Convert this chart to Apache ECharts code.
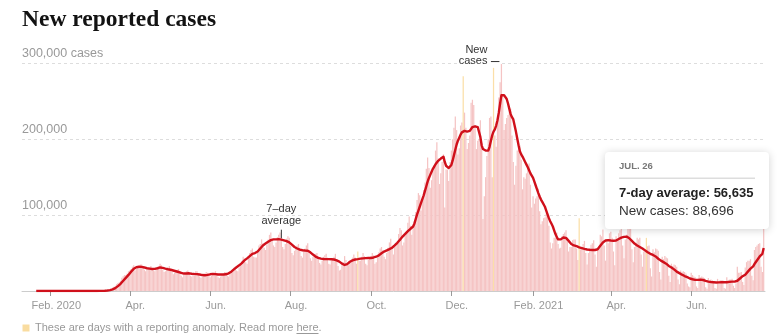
<!DOCTYPE html>
<html><head><meta charset="utf-8">
<script src="https://cdn.jsdelivr.net/npm/echarts@6/dist/echarts.min.js"></script>
<style>html,body{margin:0;padding:0;background:#fff}#c{width:780px;height:336px}</style>
</head><body><div id="c"></div>
<script>
// ---------- DATA (values in thousands of cases) ----------
const startDate = '2020-01-21';
const tickDates = ['2020-02-01','2020-04-01','2020-06-01','2020-08-01','2020-10-01','2020-12-01','2021-02-01','2021-04-01','2021-06-01'];
const tickLabels = ['Feb. 2020','Apr.','Jun.','Aug.','Oct.','Dec.','Feb. 2021','Apr.','Jun.'];
const yTicks = [100, 200, 300];
const anomalyDates = ['2020-09-21','2020-12-10','2021-01-02','2021-03-08','2021-04-28'];
const tooltipMonths = ['JAN.','FEB.','MAR.','APR.','MAY','JUN.','JUL.','AUG.','SEP.','OCT.','NOV.','DEC.'];
const avgAnnotationDate = '2020-07-25';

// daily new reported cases (thousands), by month
const casesJan20 = [0,0,0,0,0,0,0,0,0,0,0];
const casesFeb20 = [0,0,0,0,0,0,0,0,0,0,0,0,0,0,0,0,0,0,0,0,0,0,0,0,0,0,0,0,0];
const casesMar20 = [0.01,0.02,0.02,0.03,0.07,0.07,0.1,0.12,0.2,0.29,0.43,0.5,0.67,0.7,0.92,1.2,1.8,2.6,4.5,5.6,6.8,9,10.5,11.5,13.5,17.5,19.5,21,21,23,26];
const casesApr20 = [27,29,32,34,27,29,31,33,35,35,31,28,26,28,30,31,33,30,27,26,28,30,32,36,34,28,25,26,28,31];
const casesMay20 = [33,29,25,22,24,26,28,29,26,20,18,21,24,26,27,25,20,19,21,23,26,26,23,19,17,19,21,23,25,24,20];
const casesJun20 = [18,20,22,24,26,23,18,17,19,22,23,25,25,20,19,23,26,28,31,32,27,26,31,36,39,45,43,38,36,43];
const casesJul20 = [50,54,56,45,44,44,50,60,62,68,63,57,54,61,68,74,77,66,60,58,64,71,74,77,70,58,55,62,69,72,70];
const casesAug20 = [60,50,47,53,58,60,62,57,46,44,52,56,60,63,54,43,40,45,48,49,50,45,37,35,40,45,47,49,44,36,35];
const casesSep20 = [40,43,45,49,42,33,27,28,34,38,46,41,34,34,38,39,44,48,44,36,52,40,40,45,50,46,36,34,41,44];
const casesOct20 = [46,50,47,36,38,44,51,56,58,54,45,42,50,57,64,69,57,48,58,60,63,75,83,80,60,64,73,79,90,98,86];
const casesNov20 = [74,84,92,104,120,129,126,106,121,133,143,161,176,162,136,146,158,166,185,196,175,141,155,170,180,110,160,160,145,170];
const casesDec20 = [185,200,215,230,212,180,188,218,222,283,235,215,187,195,205,248,252,245,215,187,198,200,225,195,95,125,150,178,200,228,230];
const casesJan21 = [150,294,205,190,230,255,275,299,258,212,220,228,232,238,240,205,170,140,165,185,192,192,173,134,150,148,155,162,168,140,110];
const casesFeb21 = [125,115,122,125,135,105,88,92,96,97,102,100,86,64,56,63,70,70,77,62,56,57,72,75,77,80,65,52];
const casesMar21 = [58,58,67,68,68,56,41,96,55,58,62,66,50,35,50,54,61,63,67,48,32,55,58,74,72,81,60,40,66,63,76];
const casesApr21 = [78,70,52,34,72,66,76,80,88,60,43,68,74,82,82,84,55,38,58,63,70,68,70,48,32,52,55,70,59,60];
const casesMay21 = [30,19,55,51,56,55,53,25,15,45,42,46,44,43,20,12,36,33,35,34,32,15,9,27,25,26,25,23,10,6,5];
const casesJun21 = [24,21,19,18,6,4,21,18,19,18,17,5,3,17,14,15,14,13,4,3,16,13,14,14,14,4,3,18,14,15];
const casesJul21 = [15,16,7,4,10,32,24,24,25,12,8,31,38,40,40,42,20,14,54,58,60,62,63,32,25,88.696];

// 7-day average (thousands), by month
const avgJan20 = [0,0,0,0,0,0,0,0,0,0,0];
const avgFeb20 = [0,0,0,0,0,0,0,0,0,0,0,0,0,0,0,0,0,0,0,0,0,0,0,0,0,0,0,0,0];
const avgMar20 = [0.01,0.02,0.02,0.03,0.04,0.05,0.07,0.08,0.1,0.14,0.2,0.26,0.35,0.45,0.6,0.8,1.1,1.5,2.1,2.9,3.8,5,6.4,7.8,9.5,11.5,13.5,15.5,17.3,19.2,21.2];
const avgApr20 = [23.5,25.5,27.5,29.2,30.5,31.3,31.8,32,32,31.8,31.4,31,30.5,30,29.8,29.5,29.3,29,29,29.2,29.5,30,30.5,31,31,30.5,30,29.5,29,28.7];
const avgMay20 = [28.5,28,27.7,27,26.5,26,25.5,25,24.5,24,23.3,23,23,23,23.2,23.3,23,22.8,22.6,22.5,22.5,22.3,22,21.7,21.3,21,20.8,20.8,21,21.3,21.7];
const avgJun20 = [22,22.3,22.5,22.5,22.3,22,21.8,21.7,21.7,21.8,21.8,21.9,22,22.5,23.3,24.3,25.5,27,28.5,30,31.3,32.5,33.8,35,36.7,38.7,40.3,41.8,43,44.5];
const avgJul20 = [46,47.5,49,49.5,50,50.8,52,54,56,58,60,61.5,62.5,63.5,65,66,67,67.5,68,68,68,68.2,68.3,68,67.6,67.2,66.7,66.3,65.7,65,64];
const avgAug20 = [62.5,61,59.5,58,57,56,55,54.5,54,53.7,53.5,53.3,53.1,53,52,51,49.5,48,46.5,45.3,44.3,43.6,43,42.6,42.3,42.1,42,42,42,42,42];
const avgSep20 = [41.9,41.8,41.5,41,40.3,39.5,38.7,37.5,36,35,34.3,34.5,35.5,37,38.5,39.6,40.3,41,41.5,41.8,42,42.3,42.6,42.8,43,43.2,43.3,43.4,43.5,43.5];
const avgOct20 = [43.5,43.8,44.2,44.6,45.2,46,47,48.3,49.8,51,52,52.8,53.5,54.3,55.2,56,57,58.5,60,61.8,63.5,65.5,67.5,69.7,71.7,73.5,75.2,77,78.8,80.7,82];
const avgNov20 = [82.5,85,89,95,101,106,111,116,121,126,132,138,144,149,153,157,161,164,167,169.5,171.5,173,174.5,176,177,170,165,163,162,162];
const avgDec20 = [166,172,179,186,193,198,202,206,209,211,211,210.5,210,210,211,213,216,217,217,216.5,216,214,203,192,187,186,185,184,185,190,198];
const avgJan21 = [205,210,213,218,225,235,247,258,260,258,256,253,247,240,233,229,226,218,210,201,192,184,180,177,173.5,170,166.5,163,159,155,152];
const avgFeb21 = [149,144,139,134,129,124.5,120.5,117.5,115,111,106,101,96,92,88.5,85,80,75,71,68,67,68,69.5,70.5,71,70,68,66];
const avgMar21 = [64,62,60.8,60,59.5,59,58,57.5,57,56.5,56,55.5,55,54.7,54.5,54.3,54,54,54,54,54,55,57,59.5,62,64,65.5,66.5,66.8,67,66.8];
const avgApr21 = [66.5,66.3,66.3,66.4,66.5,67.5,68.5,69.5,70.3,71,71.3,71.6,71.7,71,69.5,67.8,66,64,62.5,61,60,59,58,57,56,55,53.5,52,51,50];
const avgMay21 = [49,48,47.5,46.5,45.5,44.5,42.5,41,40,39,38,37,36,34.5,33,32,31,30,28.5,27,25.5,24.5,23.5,22.5,21.5,20.5,19.7,19,18.2,17.5,16.5];
const avgJun21 = [16,15.5,15,14.7,14.5,14.6,14.8,15,15,14.5,14,13.3,12.7,12.3,12,11.8,11.6,11.5,11.3,11.2,11.2,11.3,11.4,11.5,11.5,11.5,11.5,11.6,11.8,12];
const avgJul21 = [12.2,12.4,12.5,12.4,12.4,13.5,15,16.5,18,19.5,20.5,21.5,23.5,25.5,27.5,29.5,31,32.5,35.5,38,40.5,43,45.5,47.5,49,56.635];

// ---------- BUILD ----------
const cases = [].concat(casesJan20,casesFeb20,casesMar20,casesApr20,casesMay20,casesJun20,casesJul20,casesAug20,casesSep20,casesOct20,casesNov20,casesDec20,casesJan21,casesFeb21,casesMar21,casesApr21,casesMay21,casesJun21,casesJul21);
const avg7 = [].concat(avgJan20,avgFeb20,avgMar20,avgApr20,avgMay20,avgJun20,avgJul20,avgAug20,avgSep20,avgOct20,avgNov20,avgDec20,avgJan21,avgFeb21,avgMar21,avgApr21,avgMay21,avgJun21,avgJul21);

const DAY = 86400000;
const t0 = Date.parse(startDate + 'T00:00:00Z');
const dates = cases.map((_, i) => new Date(t0 + i * DAY));
const idxOf = s => Math.round((Date.parse(s + 'T00:00:00Z') - t0) / DAY);
const tickIdx = tickDates.map(idxOf);
const anomalyIdx = new Set(anomalyDates.map(idxOf));

const PINK = '#f5c4c4', ANOM = '#fbdfa8', RED = '#d0101b';
const FONT = '"Liberation Sans", Arial, Helvetica, sans-serif';
const fmt = v => Math.round(v * 1000).toLocaleString('en-US');

const barData = cases.map((v, i) => ({ value: [i, v], itemStyle: { color: anomalyIdx.has(i) ? ANOM : PINK } }));
const lineData = avg7.map((v, i) => [i, v]);

const chart = echarts.init(document.getElementById('c'), null, { renderer: 'canvas' });
chart.setOption({
  animation: false,
  grid: { left: 22, right: 15, top: 63.3, bottom: 45 },
  xAxis: {
    type: 'value', min: -10.8, max: 553,
    axisLine: { show: true, lineStyle: { color: '#ccc', width: 1 } },
    axisTick: { show: true, customValues: tickIdx, length: 5, lineStyle: { color: '#999' } },
    axisLabel: {
      customValues: tickIdx,
      formatter: v => { const k = tickIdx.indexOf(Math.round(v)); return k >= 0 ? tickLabels[k] : ''; },
      color: '#999', fontSize: 11, fontFamily: FONT, margin: 8, lineHeight: 13, padding: [0, 0, 0, 11]
    },
    splitLine: { show: false }
  },
  yAxis: {
    type: 'value', min: 0, max: yTicks[yTicks.length - 1], interval: yTicks[0],
    axisLine: { show: false }, axisTick: { show: false },
    axisLabel: {
      inside: true, margin: 0, verticalAlign: 'bottom', padding: [0, 0, 3, 0], lineHeight: 14,
      color: '#999', fontSize: 12.5, fontFamily: FONT,
      formatter: v => v === 0 ? '' : (v === yTicks[yTicks.length - 1] ? fmt(v) + ' cases' : fmt(v))
    },
    splitLine: { show: true, lineStyle: { color: '#ddd', type: [3, 3], width: 1 } }
  },
  series: [
    { type: 'bar', data: barData, barWidth: 1.25, z: 2, silent: true },
    { type: 'line', data: lineData, showSymbol: false, symbol: 'none', z: 3, silent: true,
      lineStyle: { color: RED, width: 2.4, join: 'round' } }
  ]
});

// ---------- ANNOTATIONS ----------
const px = (i, v) => chart.convertToPixel({ gridIndex: 0 }, [i, v]);
const ia = idxOf(avgAnnotationDate);
const pa = px(ia, avg7[ia]);
let im = 0; cases.forEach((v, i) => { if (v > cases[im]) im = i; });
const pm = px(im, cases[im]);
const L = cases.length - 1;
const pl = px(L, avg7[L]);
const dL = dates[L];
const tipDate = tooltipMonths[dL.getUTCMonth()] + ' ' + dL.getUTCDate();

const mctx = document.createElement('canvas').getContext('2d');
mctx.font = '11px ' + FONT;
const footPre = 'These are days with a reporting anomaly. Read more ';
const footLink = 'here';
const w1 = mctx.measureText(footPre).width, w2 = mctx.measureText(footLink).width;

const bx = pl[0] - 158.7, by = 152;
const txt = (x, y, text, o) => ({ type: 'text', x, y, z: 100, silent: true,
  style: Object.assign({ text, fontFamily: FONT, fontSize: 11, fill: '#333', align: 'left', verticalAlign: 'middle' }, o) });

const g = [
  txt(22, 20, 'New reported cases', { fontFamily: '"Liberation Serif", "Times New Roman", serif', fontWeight: 'bold', fontSize: 23.5, fill: '#121212' }),
  // 7-day average label
  { type: 'line', z: 100, silent: true, shape: { x1: pa[0], y1: pa[1] - 1.5, x2: pa[0], y2: pa[1] - 10 }, style: { stroke: '#333', lineWidth: 1 } },
  txt(pa[0], pa[1] - 31, '7–day', { align: 'center' }),
  txt(pa[0], pa[1] - 19, 'average', { align: 'center' }),
  // new cases label
  { type: 'rect', z: 99, silent: true, shape: { x: pm[0] - 44, y: pm[1] - 8, width: 42.5, height: 9 }, style: { fill: '#fff' } },
  { type: 'line', z: 100, silent: true, shape: { x1: pm[0] - 10.5, y1: pm[1] - 2.5, x2: pm[0] - 2, y2: pm[1] - 2.5 }, style: { stroke: '#333', lineWidth: 1 } },
  txt(pm[0] - 14, pm[1] - 14, 'New', { align: 'right' }),
  txt(pm[0] - 14, pm[1] - 3, 'cases', { align: 'right' }),
  // tooltip
  { type: 'rect', z: 100, silent: true, shape: { x: bx, y: by, width: 164, height: 77, r: 4 },
    style: { fill: '#fff', shadowBlur: 8, shadowColor: 'rgba(0,0,0,0.18)', shadowOffsetY: 1 } },
  txt(bx + 14, by + 14.5, tipDate, { fontSize: 9.5, fontWeight: 'bold', fill: '#777', z: 101 }),
  { type: 'line', z: 101, silent: true, shape: { x1: bx + 14, y1: by + 26.3, x2: bx + 150, y2: by + 26.3 }, style: { stroke: '#ddd', lineWidth: 1.5 } },
  txt(bx + 14, by + 41.5, '7-day average: ' + fmt(avg7[L]), { fontSize: 13, fontWeight: 'bold', fill: '#222' }),
  txt(bx + 14, by + 59, 'New cases: ' + fmt(cases[L]), { fontSize: 13.5, fill: '#333' }),
  // footer
  { type: 'rect', z: 100, silent: true, shape: { x: 22.5, y: 324.5, width: 7, height: 7 }, style: { fill: '#f9dca0' } },
  txt(35, 328, footPre + footLink + '.', { fill: '#999' }),
  { type: 'line', z: 100, silent: true, shape: { x1: 35 + w1, y1: 333.5, x2: 35 + w1 + w2, y2: 333.5 }, style: { stroke: '#999', lineWidth: 1 } }
];
if (cases.length !== 553 || avg7.length !== 553) g.push(txt(300, 100, 'LEN ' + cases.length + ' ' + avg7.length, { fill: 'blue', fontSize: 20 }));
chart.setOption({ graphic: g });
</script></body></html>
